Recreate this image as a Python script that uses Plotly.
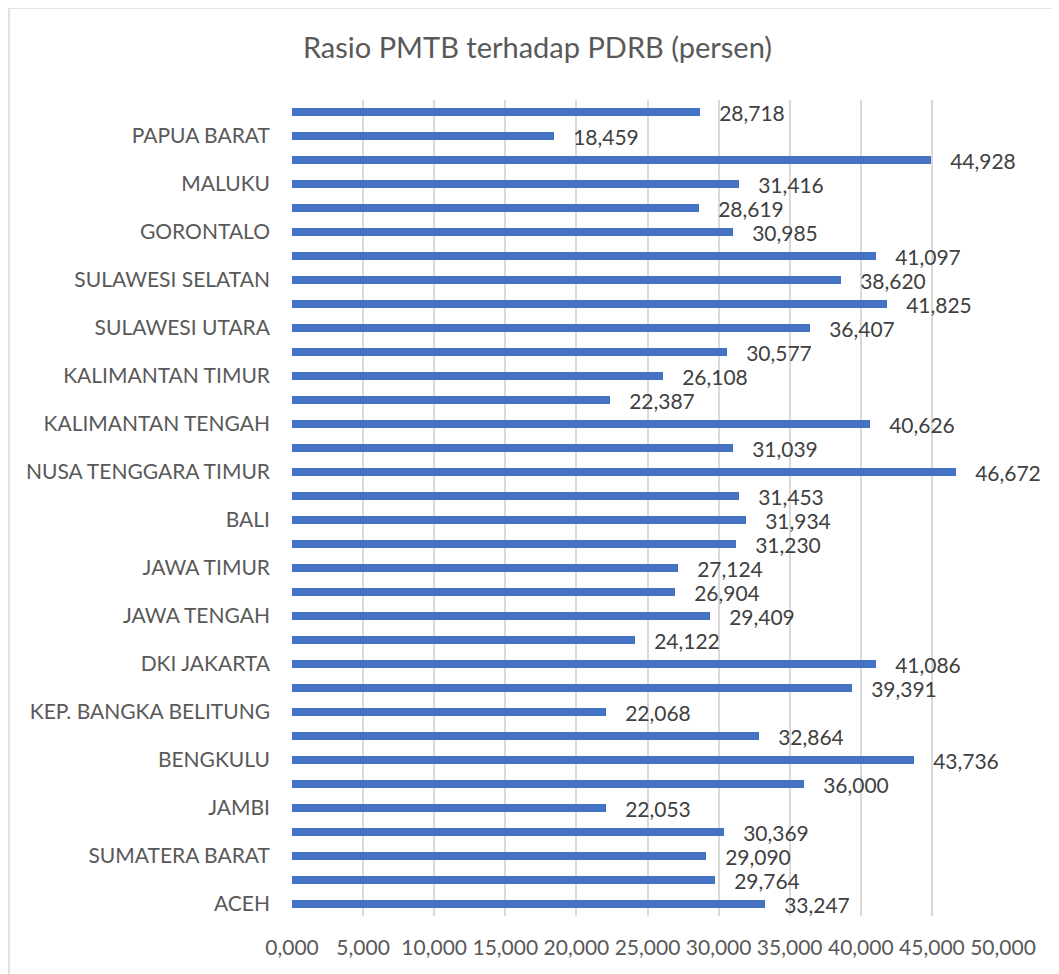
import plotly.graph_objects as go

provinces = [
    "ACEH", "SUMATERA UTARA", "SUMATERA BARAT", "RIAU", "JAMBI",
    "SUMATERA SELATAN", "BENGKULU", "LAMPUNG", "KEP. BANGKA BELITUNG", "KEP. RIAU",
    "DKI JAKARTA", "JAWA BARAT", "JAWA TENGAH", "DI YOGYAKARTA", "JAWA TIMUR",
    "BANTEN", "BALI", "NUSA TENGGARA BARAT", "NUSA TENGGARA TIMUR", "KALIMANTAN BARAT",
    "KALIMANTAN TENGAH", "KALIMANTAN SELATAN", "KALIMANTAN TIMUR", "KALIMANTAN UTARA", "SULAWESI UTARA",
    "SULAWESI TENGAH", "SULAWESI SELATAN", "SULAWESI TENGGARA", "GORONTALO", "SULAWESI BARAT",
    "MALUKU", "MALUKU UTARA", "PAPUA BARAT", "PAPUA",
]
ratio = [
    33.247, 29.764, 29.090, 30.369, 22.053,
    36.000, 43.736, 32.864, 22.068, 39.391,
    41.086, 24.122, 29.409, 26.904, 27.124,
    31.230, 31.934, 31.453, 46.672, 31.039,
    40.626, 22.387, 26.108, 30.577, 36.407,
    41.825, 38.620, 41.097, 30.985, 28.619,
    31.416, 44.928, 18.459, 28.718,
]
shown_labels = provinces[::2]
x_ticks = [0, 5, 10, 15, 20, 25, 30, 35, 40, 45, 50]

W, H = 1059, 974
ml, mr, mt, mb = 284, 64, 92, 66
pw, ph = W - ml - mr, H - mt - mb

font = "Lato, 'Open Sans', sans-serif"

fig = go.Figure(go.Bar(
    x=ratio, y=provinces, orientation="h",
    marker=dict(color="#4472C4", line=dict(width=0)),
    width=0.34,
    texttemplate="\u00a0\u00a0\u00a0%{x:.3f}",
    textposition="outside",
    textfont=dict(size=21, color="#404040", family=font),
    constraintext="none",
    cliponaxis=False,
    hoverinfo="x+y",
))

fig.update_layout(
    width=W, height=H,
    margin=dict(l=ml, r=mr, t=mt, b=mb),
    paper_bgcolor="white", plot_bgcolor="white",
    separators=",.",
    showlegend=False,
    title=dict(text="Rasio PMTB terhadap PDRB (persen)", x=0.5, xanchor="center",
               y=1 - 40 / H, yanchor="middle",
               font=dict(size=29, color="#595959", family=font)),
    font=dict(family=font, color="#595959", size=21),
    bargap=0,
    xaxis=dict(range=[0, 50], tickvals=x_ticks, tickformat=".3f",
               showgrid=True, gridcolor="#D9D9D9", gridwidth=1.5,
               zeroline=False, showline=False, ticks="",
               tickfont=dict(size=21, color="#595959"), ticklabelstandoff=17),
    yaxis=dict(type="category", categoryorder="array", categoryarray=provinces,
               range=[-0.5, len(provinces) - 0.5],
               tickvals=shown_labels, ticktext=shown_labels,
               showgrid=False, zeroline=False, showline=False, ticks="",
               tickfont=dict(size=21, color="#595959"), ticklabelstandoff=21),
    shapes=[dict(type="rect", xref="paper", yref="paper",
                 x0=(1 - ml) / pw, x1=(W + 20 - ml) / pw,
                 y0=(H - mb - (H + 20)) / ph, y1=(H - mb - 0) / ph,
                 line=dict(color="#D9D9D9", width=1.5), fillcolor="rgba(0,0,0,0)",
                 layer="below")],
)

fig.write_html("out.html")
